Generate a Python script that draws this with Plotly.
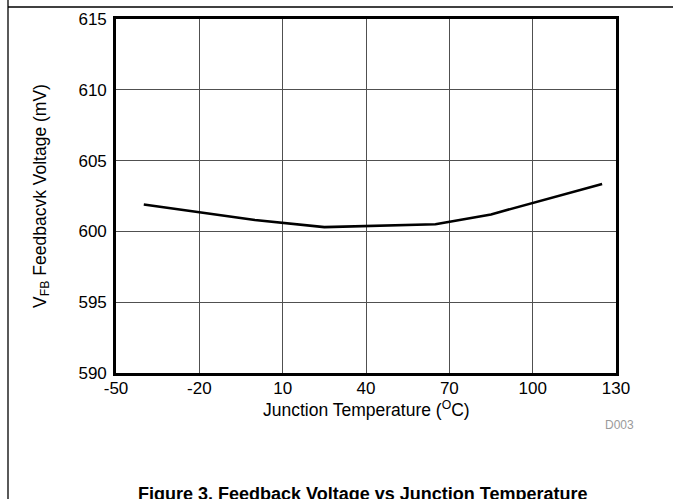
import plotly.graph_objects as go

# Data
temperature_c = [-40, 0, 25, 65, 85, 125]
vfb_mv = [601.9, 600.8, 600.3, 600.5, 601.2, 603.35]

x_ticks = [-50, -20, 10, 40, 70, 100, 130]
y_ticks = [590, 595, 600, 605, 610, 615]

FONT = "Liberation Sans, Arial, sans-serif"

fig = go.Figure()
fig.add_trace(go.Scatter(
    x=temperature_c, y=vfb_mv, mode="lines",
    line=dict(color="black", width=2.6),
    showlegend=False, hoverinfo="skip",
))

W, H = 673, 499
L, R, T, B = 116, 57, 19, 126
pw, ph = W - L - R, H - T - B

def px_x(px):
    return (px - L) / pw

def px_y(py):
    return (H - B - py) / ph

fig.update_layout(
    width=W, height=H,
    margin=dict(l=L, r=R, t=T, b=B),
    paper_bgcolor="white", plot_bgcolor="white",
    font=dict(family=FONT, size=17, color="black"),
    xaxis=dict(
        range=[-50, 130], tickmode="array", tickvals=x_ticks,
        ticktext=[str(v) for v in x_ticks],
        showgrid=True, gridcolor="#505050", gridwidth=1,
        showline=True, linecolor="black", linewidth=2.6, mirror=True,
        ticks="", zeroline=False, fixedrange=True,
        tickfont=dict(size=17), ticklabelstandoff=-2,
        automargin=False,
    ),
    yaxis=dict(
        range=[590, 615], tickmode="array", tickvals=y_ticks,
        ticktext=[str(v) for v in y_ticks],
        showgrid=True, gridcolor="#505050", gridwidth=1,
        showline=True, linecolor="black", linewidth=2.6, mirror=True,
        ticks="", zeroline=False, fixedrange=True,
        tickfont=dict(size=17), ticklabelstandoff=3,
        title=dict(text="V<sub>FB</sub> Feedbacvk Voltage (mV)", standoff=28,
                   font=dict(size=17.5)),
        automargin=False,
    ),
    annotations=[
        dict(text="Junction Temperature (<sup>O</sup>C)", xref="paper", yref="paper",
             x=px_x(366), y=px_y(409), xanchor="center", yanchor="middle",
             showarrow=False, font=dict(size=17.5, color="black", family=FONT)),
        dict(text="D003", xref="paper", yref="paper",
             x=px_x(619), y=px_y(425), xanchor="center", yanchor="middle",
             showarrow=False, font=dict(size=12, color="#9a9a9a", family=FONT)),
        dict(text="<b>Figure 3. Feedback Voltage vs Junction Temperature</b>",
             xref="paper", yref="paper",
             x=px_x(362), y=px_y(494), xanchor="center", yanchor="middle",
             showarrow=False, font=dict(size=18, color="black", family=FONT)),
    ],
    shapes=[
        dict(type="line", xref="paper", yref="paper",
             x0=px_x(8), x1=px_x(673), y0=px_y(7), y1=px_y(7),
             line=dict(color="black", width=1.3)),
        dict(type="line", xref="paper", yref="paper",
             x0=px_x(8), x1=px_x(8), y0=px_y(0), y1=px_y(499),
             line=dict(color="black", width=1.3)),
    ],
)

fig.write_html("out.html")
